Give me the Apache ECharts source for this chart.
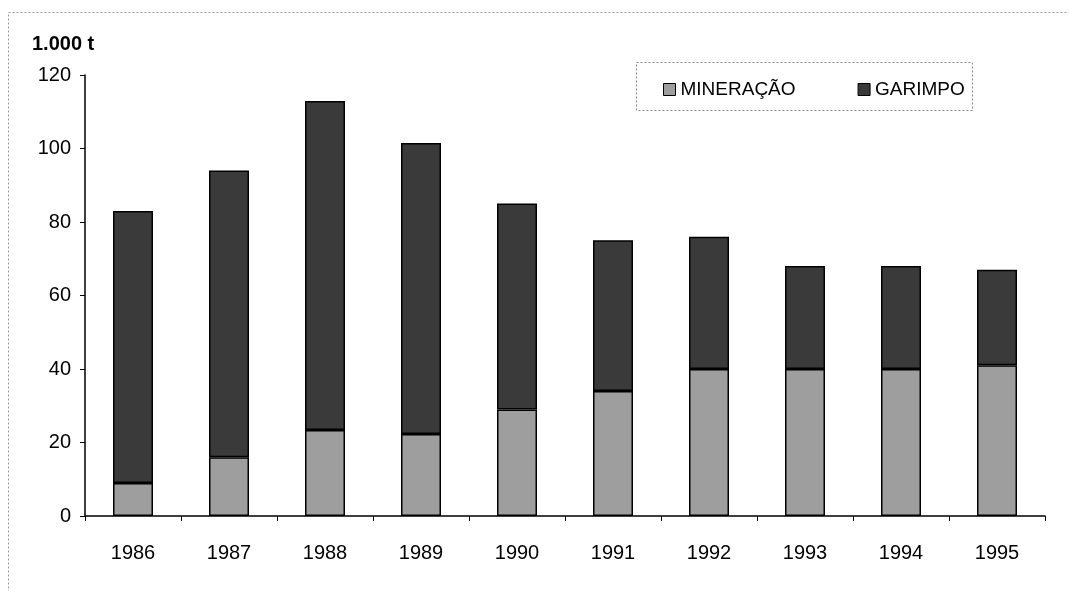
<!DOCTYPE html>
<html><head><meta charset="utf-8">
<script src="https://cdn.jsdelivr.net/npm/echarts@6/dist/echarts.min.js"></script>
<style>html,body{margin:0;padding:0;background:#fff}#c{width:1069px;height:591px}</style>
</head><body><div id="c"></div>
<script>
const years = ['1986','1987','1988','1989','1990','1991','1992','1993','1994','1995'];
const mineracao = [9, 16, 23.4, 22.3, 29, 34, 40, 40, 40, 41];
const garimpo = [74, 78, 89.5, 79.2, 56, 41, 36, 28, 28, 26];
const yTicks = [0, 20, 40, 60, 80, 100, 120];

const chart = echarts.init(document.getElementById('c'));
const font = '"Liberation Sans", Arial, sans-serif';
chart.setOption({
  animation: false,
  backgroundColor: '#fff',
  grid: {left: 85, right: 24, top: 75, bottom: 75},
  graphic: [
    {type: 'rect', shape: {x: 8.5, y: 12.5, width: 1200, height: 800}, style: {fill: 'none', stroke: '#999', lineWidth: 1, lineDash: [2, 2]}, silent: true},
    {type: 'rect', shape: {x: 636.5, y: 62.5, width: 336, height: 48}, style: {fill: '#fff', stroke: '#888', lineWidth: 1, lineDash: [2, 2]}, z: 0, silent: true},
    {type: 'text', left: 32, top: 34, style: {text: '1.000 t', font: 'bold 20px ' + font, fill: '#000'}}
  ],
  legend: {
    left: 658, top: 75, padding: 5, itemWidth: 12, itemHeight: 12, itemGap: 62, icon: 'rect',
    itemStyle: {borderColor: '#000', borderWidth: 1},
    textStyle: {fontFamily: font, fontSize: 19, color: '#000'},
    data: ['MINERAÇÃO', 'GARIMPO']
  },
  xAxis: {
    type: 'category', data: years,
    axisLine: {lineStyle: {color: '#000', width: 1.5}},
    axisTick: {show: true, alignWithLabel: false, length: 5, lineStyle: {color: '#000'}},
    axisLabel: {fontFamily: font, fontSize: 20, color: '#000', margin: 27}
  },
  yAxis: {
    type: 'value', min: yTicks[0], max: yTicks[yTicks.length - 1], interval: 20,
    axisLine: {show: true, lineStyle: {color: '#000', width: 1.5}},
    axisTick: {show: true, length: 5, lineStyle: {color: '#000'}},
    splitLine: {show: false},
    axisLabel: {fontFamily: font, fontSize: 20, color: '#000', margin: 14}
  },
  series: [
    {name: 'MINERAÇÃO', type: 'bar', stack: 't', data: mineracao, barWidth: 40,
     itemStyle: {color: '#9e9e9e', borderColor: '#000', borderWidth: 1.5}},
    {name: 'GARIMPO', type: 'bar', stack: 't', data: garimpo, barWidth: 40,
     itemStyle: {color: '#3a3a3a', borderColor: '#000', borderWidth: 1.5}}
  ]
});
</script></body></html>
